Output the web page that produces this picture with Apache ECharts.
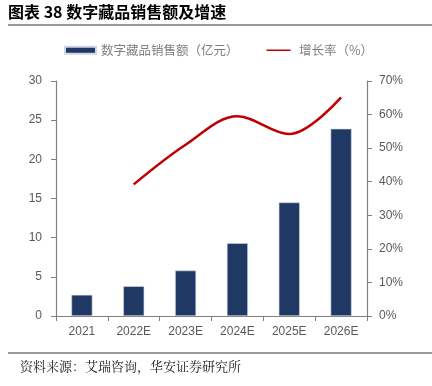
<!DOCTYPE html>
<html><head><meta charset="utf-8">
<script src="https://cdn.jsdelivr.net/npm/echarts@6/dist/echarts.min.js"></script>
<style>html,body{margin:0;padding:0;background:#fff}#c{width:432px;height:386px}</style>
</head><body><div id="c"></div>
<script>
const categories = ['2021','2022E','2023E','2024E','2025E','2026E'];
const salesValues = [2.7, 3.8, 5.8, 9.3, 14.5, 23.9];
const growthValues = [null, 39.2, 51.0, 59.5, 54.2, 65.1];
const leftTicks = [0,5,10,15,20,25,30];
const rightTicks = [0,10,20,30,40,50,60,70];
const sansCJK = '"Noto Sans CJK SC", sans-serif';
const chart = echarts.init(document.getElementById('c'));
chart.setOption({
  animation: false,
  backgroundColor: '#fff',
  textStyle: { fontFamily: 'Liberation Sans, Arial, sans-serif' },
  graphic: [
    { type: 'text', left: 8, top: 4, style: { text: '图表 38 数字藏品销售额及增速', font: 'bold 16px ' + sansCJK, fill: '#000' } },
    { type: 'line', shape: { x1: 8, y1: 25, x2: 432, y2: 25 }, style: { stroke: '#333', lineWidth: 1.2 } },
    { type: 'line', shape: { x1: 8, y1: 353, x2: 432, y2: 353 }, style: { stroke: '#333', lineWidth: 1 } },
    { type: 'text', left: 20, top: 360, style: { text: '资料来源：艾瑞咨询，华安证券研究所', font: '13px "Noto Serif CJK SC", ' + sansCJK, fill: '#222' } }
  ],
  legend: {
    top: 44, left: 64, padding: 0, itemGap: 28, itemWidth: 31, itemHeight: 7,
    textStyle: { color: '#7f7f7f', fontSize: 12.5, fontFamily: sansCJK },
    data: [
      { name: '数字藏品销售额（亿元）', icon: 'rect' },
      { name: '增长率（%）', icon: 'path://M0,0 L0.05,0 L0.05,0.05 Z M0,3.4 L31,3.4 L31,5.6 L0,5.6 Z M0,9 L0.05,9 L0.05,8.95 Z' }
    ]
  },
  grid: { left: 56, right: 65, top: 81, bottom: 70 },
  xAxis: {
    type: 'category', data: categories,
    axisLine: { lineStyle: { color: '#808080', width: 1.2 } },
    axisTick: { show: true, alignWithLabel: false, length: 5, lineStyle: { color: '#808080' } },
    axisLabel: { color: '#595959', fontSize: 12, margin: 10 }
  },
  yAxis: [
    { type: 'value', min: 0, max: 30, interval: 5, position: 'left',
      axisLine: { show: true, lineStyle: { color: '#808080', width: 1.2 } },
      axisTick: { show: true, length: 5, lineStyle: { color: '#808080' } },
      splitLine: { show: false },
      axisLabel: { color: '#595959', fontSize: 12, margin: 14 } },
    { type: 'value', min: 0, max: 70, interval: 10, position: 'right',
      axisLine: { show: true, lineStyle: { color: '#808080', width: 1.2 } },
      axisTick: { show: true, length: 5, lineStyle: { color: '#808080' } },
      splitLine: { show: false },
      axisLabel: { color: '#595959', fontSize: 12, margin: 12, formatter: '{value}%' } }
  ],
  series: [
    { name: '数字藏品销售额（亿元）', type: 'bar', data: salesValues, barWidth: 21,
      itemStyle: { color: '#1F3864', borderColor: '#d0d6e2', borderWidth: 0.6 } },
    { name: '增长率（%）', type: 'line', yAxisIndex: 1, data: growthValues, smooth: 0.35,
      symbol: 'none', lineStyle: { color: '#C00000', width: 2.5 }, itemStyle: { color: '#C00000' } }
  ]
});
</script></body></html>
